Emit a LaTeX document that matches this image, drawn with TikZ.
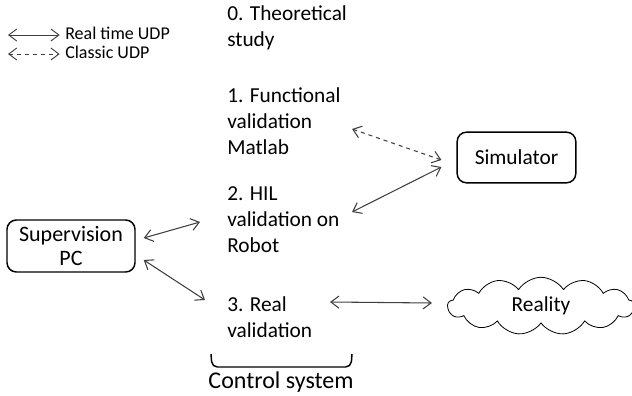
\documentclass[tikz,border=0pt]{standalone}
\usepackage{fontspec}
\setmainfont{Carlito}
\usetikzlibrary{calc,positioning,arrows.meta,shapes.symbols}
\definecolor{arrowgray}{HTML}{404040}

\begin{document}
\begin{tikzpicture}[x=0.75pt,y=-0.75pt,
  every node/.style={font=\fontsize{16}{19.2}\selectfont},
  stage/.style={align=left, inner sep=0pt, anchor=base west},
  box/.style={draw, line width=1.1pt, rounded corners=7pt, align=center},
  realtime/.style={arrowgray, line width=0.8pt, {Straight Barb[length=6pt,width=9pt]}-{Straight Barb[length=6pt,width=9pt]}},
  classic/.style={realtime, dashed}]
\useasboundingbox (0,0) rectangle (632,396);

\coordinate (lg1) at (8,35);
\coordinate (lg2) at (8,54);
\node[anchor=base west, inner sep=0pt, font=\fontsize{13.5}{15}\selectfont] (lgr) at (65,39.5) {Real time UDP};
\node[anchor=base west, inner sep=0pt, font=\fontsize{13.5}{15}\selectfont] (lgc) at (65,58) {Classic UDP};
\draw[realtime, line width=0.7pt] (lg1) -- ([xshift=-4pt]lgr.west |- lg1);
\draw[classic, line width=0.7pt] (lg2) -- ([xshift=-4pt]lgc.west |- lg2);

\node[stage] (n0) at (227,46) {0. Theoretical\\study};
\node[stage] (n1) at (227,154) {1. Functional\\validation\\Matlab};
\node[stage] (n2) at (227,252) {2. HIL\\validation on\\Robot};
\node[stage] (n3) at (227,337) {3. Real\\validation};

\node[box, minimum width=96pt, minimum height=39pt, font=\fontsize{16.5}{17.5}\selectfont] (pc) at (71,246) {Supervision\\PC};
\node[box, minimum width=89pt, minimum height=38pt] (sim) at (516.5,157.5) {Simulator};
\node[cloud, draw, line width=0.6pt, cloud puffs=13, cloud puff arc=115, aspect=4,
  minimum width=140pt, minimum height=42pt] (rea) at (541,306) {Reality};

\draw[classic] ([shift={(125,-25)}]n1.base west) -- ([shift={(-15,2.5)}]sim.west);
\draw[realtime] ([shift={(-15,9.5)}]sim.west) -- ([shift={(125,-40)}]n2.base west);
\draw[realtime] ([shift={(8,-8)}]pc.east) -- ([shift={(-27,-30)}]n2.base west);
\draw[realtime] ([shift={(8,14)}]pc.east) -- ([shift={(-22,-37)}]n3.base west);
\draw[realtime] ([shift={(103,-35)}]n3.base west) -- ([shift={(-15,-3)}]rea.west);

\draw[line width=1.1pt, rounded corners=4pt] (211,354) -- (212,367) -- (351,367) -- (352,354);
\node[anchor=base, inner sep=0pt, font=\fontsize{18}{20}\selectfont] (ctrl) at (281,388) {Control system};
\end{tikzpicture}
\end{document}
